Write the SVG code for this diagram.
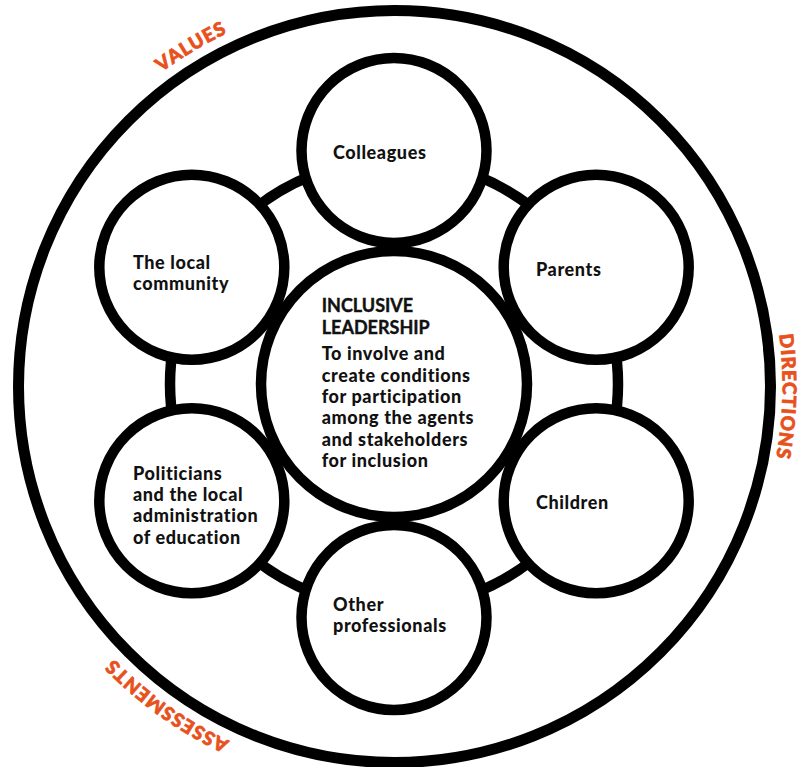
<svg xmlns="http://www.w3.org/2000/svg" xmlns:xlink="http://www.w3.org/1999/xlink" width="802" height="767" viewBox="0 0 802 767">
<defs>
<style>
.node{fill:#fff;stroke:#000;stroke-width:10.5}
.lbl{font-family:Lato,"Liberation Sans",sans-serif;font-weight:900;font-size:18px;letter-spacing:0.6px;fill:#111}
.head{letter-spacing:0;font-weight:700;stroke:#111;stroke-width:0.4}
.orange{font-family:Lato,"Liberation Sans",sans-serif;font-weight:900;font-size:19px;letter-spacing:1.1px;fill:#E8501C;stroke:#E8501C;stroke-width:0.7}
</style>
<path id="outerPath" d="M394.5,-4.5 A391,391 0 1 1 394.5,777.5 A391,391 0 1 1 394.5,-4.5"/>
<path id="rightPath" d="M394.5,-1.5 A388,388 0 1 1 394.5,774.5 A388,388 0 1 1 394.5,-1.5"/>
</defs>
<rect width="802" height="767" fill="#fff"/>
<g id="outer-ring">
<circle cx="394.5" cy="386.5" r="376" fill="none" stroke="#000" stroke-width="11"/>
<text class="orange"><textPath xlink:href="#outerPath" href="#outerPath" startOffset="2245" text-anchor="middle">VALUES</textPath></text>
<text class="orange" font-size="18.5"><textPath xlink:href="#rightPath" href="#rightPath" startOffset="619.5" text-anchor="middle">DIRECTIONS</textPath></text>
<text class="orange"><textPath xlink:href="#outerPath" href="#outerPath" startOffset="1470" text-anchor="middle">ASSESSMENTS</textPath></text>
</g>
<g id="connectors">
<circle cx="394" cy="384" r="224" fill="none" stroke="#000" stroke-width="10.5"/>
</g>
<g id="node-center">
<circle class="node" cx="394" cy="384" r="133"/>
<text class="lbl head" x="321.7" y="312.3">INCLUSIVE</text>
<text class="lbl head" x="321.7" y="334">LEADERSHIP</text>
<text class="lbl" x="321.7" y="360">To involve and</text>
<text class="lbl" x="321.7" y="381.5">create conditions</text>
<text class="lbl" x="321.7" y="403">for participation</text>
<text class="lbl" x="321.7" y="424.3">among the agents</text>
<text class="lbl" x="321.7" y="445.7">and stakeholders</text>
<text class="lbl" x="321.7" y="467">for inclusion</text>
</g>
<g id="node-colleagues">
<circle class="node" cx="394" cy="150.5" r="92.5"/>
<text class="lbl" x="333" y="159">Colleagues</text>
</g>
<g id="node-parents">
<circle class="node" cx="596.2" cy="267.25" r="92.5"/>
<text class="lbl" x="536" y="276">Parents</text>
</g>
<g id="node-children">
<circle class="node" cx="596.2" cy="500.75" r="92.5"/>
<text class="lbl" x="536" y="508.5">Children</text>
</g>
<g id="node-other">
<circle class="node" cx="394" cy="617.5" r="92.5"/>
<text class="lbl" x="333" y="611">Other</text>
<text class="lbl" x="333" y="632.3">professionals</text>
</g>
<g id="node-politicians">
<circle class="node" cx="191.8" cy="500.75" r="92.5"/>
<text class="lbl" x="133" y="479.7">Politicians</text>
<text class="lbl" x="133" y="501">and the local</text>
<text class="lbl" x="133" y="522.3">administration</text>
<text class="lbl" x="133" y="543.6">of education</text>
</g>
<g id="node-community">
<circle class="node" cx="191.8" cy="267.25" r="92.5"/>
<text class="lbl" x="133" y="269">The local</text>
<text class="lbl" x="133" y="290.3">community</text>
</g>
</svg>
